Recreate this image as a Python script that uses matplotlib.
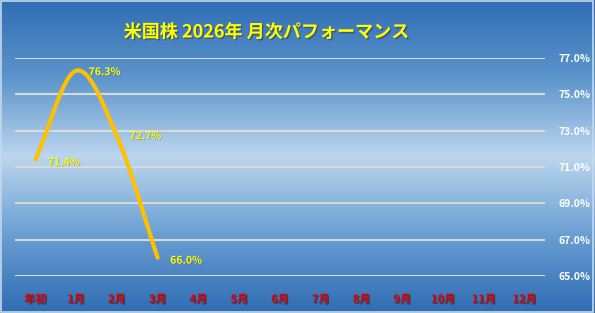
import matplotlib.pyplot as plt
import matplotlib.patheffects as pe
import numpy as np
from matplotlib.colors import LinearSegmentedColormap

plt.rcParams['font.family'] = ['Noto Sans CJK JP', 'DejaVu Sans']

# データ
months = ["年初", "1月", "2月", "3月", "4月", "5月", "6月", "7月", "8月", "9月", "10月", "11月", "12月"]
perf = [71.4, 76.3, 72.7, 66.0]
yticks = [65, 67, 69, 71, 73, 75, 77]
title = "米国株 2026年 月次パフォーマンス"


def catmull_rom(x, y, n=30):
    # Excelの「スムージング」風の曲線
    px = np.concatenate([[2 * x[0] - x[1]], x, [2 * x[-1] - x[-2]]])
    py = np.concatenate([[2 * y[0] - y[1]], y, [2 * y[-1] - y[-2]]])
    xs, ys = [], []
    t = np.linspace(0, 1, n)
    for i in range(1, len(px) - 2):
        for p, out in ((px, xs), (py, ys)):
            p0, p1, p2, p3 = p[i - 1], p[i], p[i + 1], p[i + 2]
            out.extend(0.5 * (2 * p1 + (-p0 + p2) * t
                              + (2 * p0 - 5 * p1 + 4 * p2 - p3) * t ** 2
                              + (-p0 + 3 * p1 - 3 * p2 + p3) * t ** 3))
    return np.array(xs), np.array(ys)


fig = plt.figure(figsize=(5.95, 3.13), dpi=100)

# 背景グラデーション
bg = fig.add_axes([0, 0, 1, 1])
cmap = LinearSegmentedColormap.from_list("bg", ["#2f6db5", "#5d95cc", "#bcd6ee", "#6a9fd3", "#2f6cb3"])
grad = np.linspace(0, 1, 256).reshape(-1, 1)
bg.imshow(grad, aspect="auto", cmap=cmap, extent=[0, 1, 0, 1], origin="upper")
bg.set_xlim(0, 1)
bg.set_ylim(0, 1)
bg.axis("off")
bg.add_patch(plt.Rectangle((0.002, 0.004), 0.994, 0.992, fill=False, ec="#c8d8ea", lw=1.2))

ax = fig.add_axes([15 / 595, 37 / 313, 530 / 595, 218 / 313])
ax.patch.set_alpha(0)
for s in ax.spines.values():
    s.set_visible(False)

x = np.arange(len(perf))
sx, sy = catmull_rom(x.astype(float), np.array(perf))
ax.plot(sx, sy, color="#ffc000", lw=3, solid_capstyle="round", zorder=3)

label_off = [(9, -2), (9, -1), (9, 0), (9, -2)]
for xi, v, off in zip(x, perf, label_off):
    ax.annotate(f"{v:.1f}%", (xi, v), xytext=off, textcoords="offset points",
                ha="left", va="center", color="#ffff00", fontsize=7.5, fontweight="bold",
                path_effects=[pe.withSimplePatchShadow(offset=(0.6, -0.6), shadow_rgbFace="#555555", alpha=0.4)])

ax.set_xlim(-0.5, len(months) - 0.5)
ax.set_ylim(65, 77)
ax.set_yticks(yticks)
ax.yaxis.tick_right()
ax.set_yticklabels([f"{v:.1f}%" for v in yticks])
ax.set_xticks(np.arange(len(months)))
ax.set_xticklabels(months)
ax.tick_params(axis="y", length=0, pad=10, labelsize=7.5, labelcolor="white")
ax.tick_params(axis="x", length=0, pad=12, labelsize=8, labelcolor="#e00000")
for lab in ax.get_yticklabels():
    lab.set_fontweight("bold")
for lab in ax.get_xticklabels():
    lab.set_fontweight("bold")
    lab.set_path_effects([pe.withSimplePatchShadow(offset=(0.8, -0.8), shadow_rgbFace="#222222", alpha=0.6)])
ax.grid(axis="y", color="#d9d9d9", lw=1.5)
ax.set_axisbelow(True)

fig.text(266 / 595, 1 - 32 / 313, title, ha="center", va="center", color="#ffff00",
         fontsize=13, fontweight="bold",
         path_effects=[pe.withSimplePatchShadow(offset=(1, -1), shadow_rgbFace="#333333", alpha=0.5)])

fig.savefig("out.png", dpi=100)
